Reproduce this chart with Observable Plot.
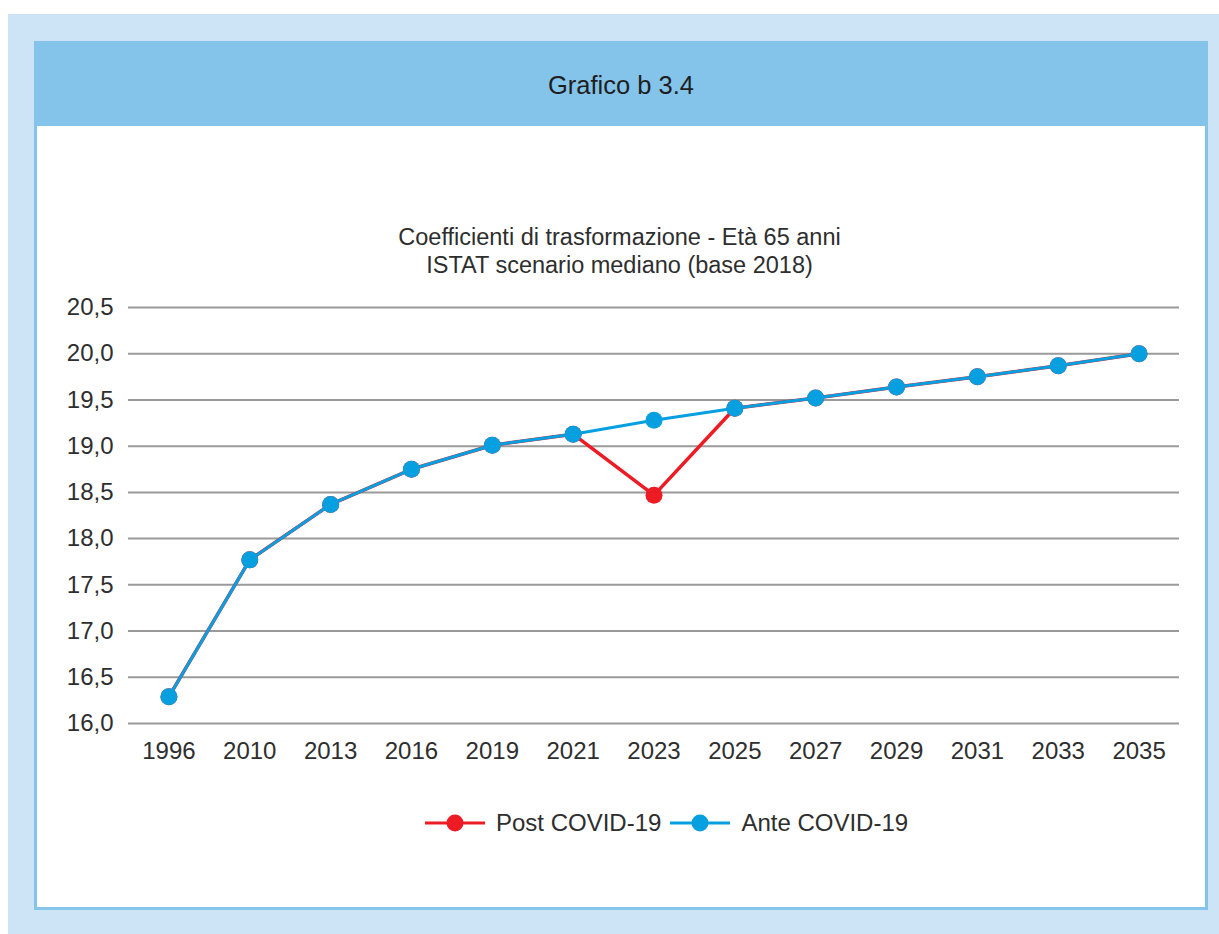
<!DOCTYPE html>
<html>
<head>
<meta charset="utf-8">
<script src="https://cdn.jsdelivr.net/npm/d3@7"></script>
<script src="https://cdn.jsdelivr.net/npm/@observablehq/plot@0.6"></script>
<style>
  html, body { margin: 0; padding: 0; background: #ffffff; }
  body { width: 1219px; height: 934px; position: relative; overflow: hidden; font-family: "Liberation Sans", Arial, sans-serif; }
  #outer { position: absolute; left: 8px; top: 14px; width: 1211px; height: 920px; background: #cde3f6; }
  #panel { position: absolute; left: 34px; top: 41px; width: 1168px; height: 863px; background: #ffffff; border: 3px solid #86c5ea; }
  #header { position: absolute; left: 34px; top: 41px; width: 1174px; height: 85px; background: #84c4ea; }
  #htitle { position: absolute; left: 34px; top: 70px; width: 1174px; text-align: center; font-size: 25.5px; line-height: 30px; color: #1e1e1e; }
  #sub { position: absolute; left: 0; top: 223px; width: 1239px; text-align: center; font-size: 23.5px; line-height: 28px; color: #2e2e2e; }
  #chart { position: absolute; left: 0; top: 0; }
  #legend { position: absolute; left: 425px; top: 808px; height: 30px; display: flex; align-items: center; font-size: 24px; color: #2e2e2e; }
  .sw { display: inline-block; vertical-align: middle; }
</style>
</head>
<body>
<div id="outer"></div>
<div id="panel"></div>
<div id="header"></div>
<div id="htitle">Grafico b 3.4</div>
<div id="sub">Coefficienti di trasformazione - Età 65 anni<br>ISTAT scenario mediano (base 2018)</div>
<div id="chart"></div>
<div id="legend"></div>
<script>
const years = ["1996","2010","2013","2016","2019","2021","2023","2025","2027","2029","2031","2033","2035"];
const anteValues = [16.29, 17.77, 18.37, 18.75, 19.01, 19.13, 19.28, 19.41, 19.52, 19.64, 19.75, 19.87, 20.00];
const postValues = [16.29, 17.77, 18.37, 18.75, 19.01, 19.13, 18.47, 19.41, 19.52, 19.64, 19.75, 19.87, 20.00];
const yTicks = [16.0, 16.5, 17.0, 17.5, 18.0, 18.5, 19.0, 19.5, 20.0, 20.5];
const seriesNames = ["Post COVID-19", "Ante COVID-19"];
const seriesColors = ["#ed1c24", "#069fe0"];

const post = years.map((y, i) => ({year: y, value: postValues[i]}));
const ante = years.map((y, i) => ({year: y, value: anteValues[i]}));

const fmt = d => d.toFixed(1).replace(".", ",");

const chart = Plot.plot({
  width: 1219,
  height: 934,
  marginLeft: 128,
  marginRight: 40,
  marginTop: 307,
  marginBottom: 211,
  style: { background: "transparent", fontFamily: "Liberation Sans, Arial, sans-serif", fontSize: "24px", color: "#2e2e2e", overflow: "visible" },
  x: { type: "band", domain: years, padding: 0, round: false, label: null, tickSize: 0, tickPadding: 18 },
  y: { domain: [16, 20.5], ticks: yTicks, tickFormat: fmt, label: null, tickSize: 0, tickPadding: 15 },
  marks: [
    Plot.ruleY(yTicks, { stroke: "#9a9a9a", strokeWidth: 2, strokeOpacity: 1 }),
    Plot.line(post, { x: "year", y: "value", stroke: seriesColors[0], strokeWidth: 3.5 }),
    Plot.dot(post, { x: "year", y: "value", fill: seriesColors[0], r: 8.5 }),
    Plot.line(ante, { x: "year", y: "value", stroke: seriesColors[1], strokeWidth: 3 }),
    Plot.dot(ante, { x: "year", y: "value", fill: seriesColors[1], r: 8.5 })
  ]
});
document.getElementById("chart").appendChild(chart);

const legend = document.getElementById("legend");
seriesNames.forEach((name, i) => {
  const sw = document.createElementNS("http://www.w3.org/2000/svg", "svg");
  sw.setAttribute("width", 60); sw.setAttribute("height", 20); sw.setAttribute("class", "sw");
  sw.innerHTML = `<line x1="0" x2="60" y1="10" y2="10" stroke="${seriesColors[i]}" stroke-width="3"/><circle cx="30" cy="10" r="8.5" fill="${seriesColors[i]}"/>`;
  legend.appendChild(sw);
  const t = document.createElement("span");
  t.textContent = name;
  t.style.marginLeft = "11px";
  t.style.marginRight = i === 0 ? "9px" : "0";
  legend.appendChild(t);
});
</script>
</body>
</html>
